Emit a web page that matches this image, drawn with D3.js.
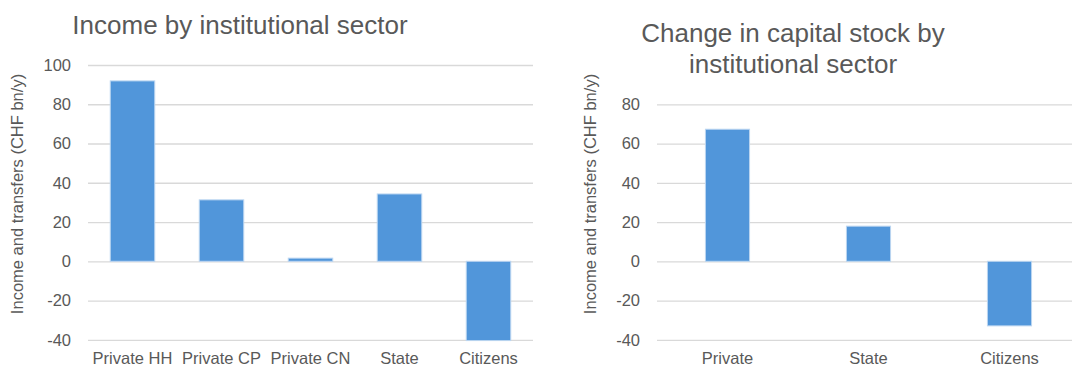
<!DOCTYPE html>
<html>
<head>
    <meta charset="UTF-8">
    <title>Income and capital stock by institutional sector</title>
    <script src="https://d3js.org/d3.v7.min.js"></script>
    <style type="text/css">
        body { margin: 0; background: white; }
        text { font-family: "Liberation Sans", Arial, sans-serif; fill: #595959; }
        .grid line { stroke: #d9d9d9; stroke-width: 1.3; }
    </style>
</head>
<body>
    <svg id="charts"></svg>

    <script>
        // left chart
        const incomeSectors = ["Private HH", "Private CP", "Private CN", "State", "Citizens"];
        const incomeValues = [91.9, 31.3, 1.6, 34.3, -40.4];
        const incomeTicks = [-40, -20, 0, 20, 40, 60, 80, 100];

        // right chart
        const capitalSectors = ["Private", "State", "Citizens"];
        const capitalValues = [67.3, 17.9, -32.9];
        const capitalTicks = [-40, -20, 0, 20, 40, 60, 80];

        const yTitle = "Income and transfers (CHF bn/y)";
        const barColor = "#5196da";

        const svg = d3.select("#charts")
            .attr("width", 1072)
            .attr("height", 367);

        function drawChart(opts) {
            const y = d3.scaleLinear()
                .domain([-40, opts.ticks[opts.ticks.length - 1]])
                .range([339.8, opts.yTop]);
            const x = d3.scaleBand()
                .domain(opts.cats)
                .range([opts.left, opts.right])
                .paddingInner(opts.pad)
                .paddingOuter(opts.pad / 2);

            const g = svg.append("g");

            // gridlines + y tick labels (plain hyphen for negatives)
            const yAxis = g.append("g")
                .attr("class", "grid")
                .attr("transform", `translate(${opts.left},0)`)
                .call(d3.axisLeft(y)
                    .tickValues(opts.ticks)
                    .tickFormat(d => String(d))
                    .tickSize(-(opts.gridEnd - opts.left))
                    .tickPadding(17));
            yAxis.select(".domain").remove();
            yAxis.selectAll("text")
                .style("font-size", "16.5px")
                .attr("fill", "#595959");

            g.selectAll(".bar")
                .data(opts.values)
                .enter()
                .append("rect")
                .attr("class", "bar")
                .attr("x", (d, i) => x(opts.cats[i]))
                .attr("width", x.bandwidth())
                .attr("y", d => y(Math.max(0, d)))
                .attr("height", d => Math.abs(y(d) - y(0)))
                .style("fill", barColor)
                .style("stroke", "#bcd6f1")
                .style("stroke-width", 1);

            const xAxis = g.append("g")
                .attr("transform", `translate(0,${y(-40)})`)
                .call(d3.axisBottom(x).tickSize(0).tickPadding(12));
            xAxis.select(".domain").remove();
            xAxis.selectAll("text")
                .style("font-size", "16.5px")
                .attr("fill", "#595959");

            g.append("text")
                .attr("transform", `translate(${opts.yTitleX},194) rotate(-90)`)
                .attr("text-anchor", "middle")
                .style("font-size", "16.5px")
                .text(yTitle);

            opts.title.forEach((line, i) => {
                g.append("text")
                    .attr("x", opts.titleX)
                    .attr("y", opts.titleY + i * 31)
                    .attr("text-anchor", "middle")
                    .style("font-size", "26px")
                    .text(line);
            });
        }

        drawChart({
            cats: incomeSectors,
            values: incomeValues,
            ticks: incomeTicks,
            yTop: 65,
            left: 88,
            right: 533,
            gridEnd: 533,
            pad: 0.5,
            yTitleX: 23,
            title: ["Income by institutional sector"],
            titleX: 240,
            titleY: 34
        });

        drawChart({
            cats: capitalSectors,
            values: capitalValues,
            ticks: capitalTicks,
            yTop: 104.3,
            left: 657,
            right: 1080,
            gridEnd: 1080,
            pad: 0.687,
            yTitleX: 596,
            title: ["Change in capital stock by", "institutional sector"],
            titleX: 793,
            titleY: 42
        });
    </script>
</body>
</html>
